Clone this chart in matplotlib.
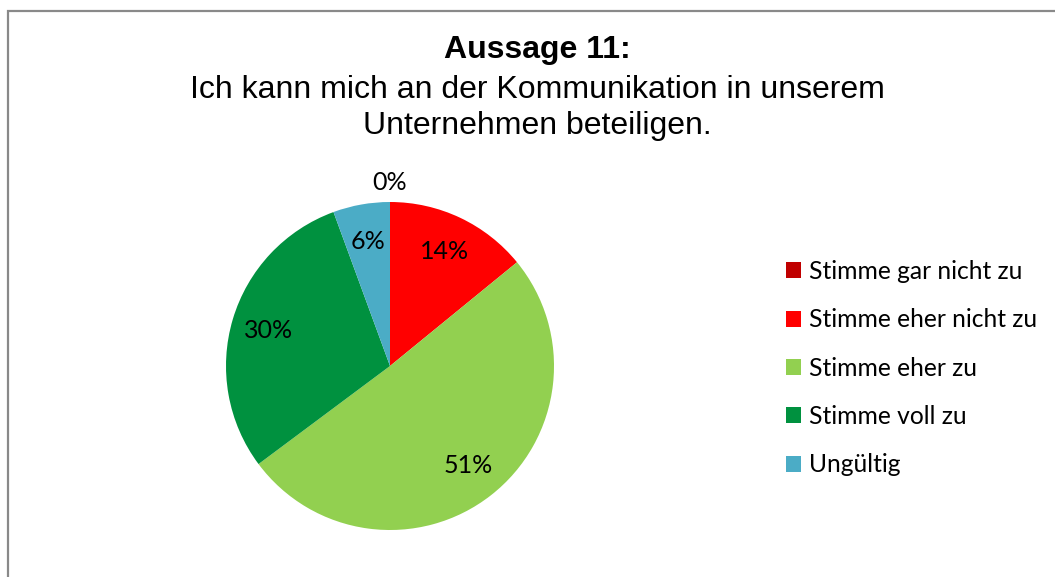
import matplotlib
matplotlib.use("Agg")
import matplotlib.pyplot as plt
from matplotlib.patches import Rectangle, Patch
import numpy as np

categories = ["Stimme gar nicht zu", "Stimme eher nicht zu", "Stimme eher zu",
              "Stimme voll zu", "Ungültig"]
values = [0.0, 14.1, 50.7, 29.6, 5.6]
colors = ["#C00000", "#FF0000", "#92D050", "#00913F", "#4BACC6"]
title_bold = "Aussage 11:"
title_rest = "Ich kann mich an der Kommunikation in unserem\nUnternehmen beteiligen."

W, H = 1055, 577
fig = plt.figure(figsize=(W / 100, H / 100), dpi=100)
fig.patch.set_facecolor("white")

# border
fig.add_artist(Rectangle((7.5 / W, -0.1), 2.0, (H - 10.5) / H + 0.1,
                         transform=fig.transFigure, fill=False,
                         edgecolor="#898989", lw=1.6))

cx, cy, r = 390, 366, 164
ax = fig.add_axes([(cx - r) / W, (H - cy - r) / H, 2 * r / W, 2 * r / H])
wedges, texts, autotexts = ax.pie(values, colors=colors, startangle=90,
                                  counterclock=False, radius=1,
                                  autopct=lambda p: f"{p:.0f}%",
                                  pctdistance=0.77,
                                  wedgeprops=dict(linewidth=0),
                                  textprops=dict(fontsize=18, family="Lato",
                                                 color="black"))
ax.set_xlim(-1, 1)
ax.set_ylim(-1, 1)
ax.set_aspect("auto")
for w, t, v in zip(wedges, autotexts, values):
    if v == 0:
        ang = np.deg2rad((w.theta1 + w.theta2) / 2)
        t.set_position((1.12 * np.cos(ang), 1.12 * np.sin(ang)))

fig.text(537 / W, 1 - 50 / H, title_bold, ha="center", va="center",
         fontsize=23, fontweight="bold", family="Liberation Sans")
fig.text(537 / W, 1 - 108 / H, title_rest, ha="center", va="center",
         fontsize=23, family="Liberation Sans", linespacing=1.28)

handles = [Patch(facecolor=c, edgecolor="none") for c in colors]
fig.legend(handles, categories, loc="upper left",
           bbox_to_anchor=(786 / W, 1 - 260 / H), frameon=False,
           prop=dict(family="Lato", size=17.7), handlelength=0.62,
           handleheight=0.62, handletextpad=0.3, labelspacing=1.03,
           borderaxespad=0, borderpad=0)

fig.savefig("out.png", dpi=100)
